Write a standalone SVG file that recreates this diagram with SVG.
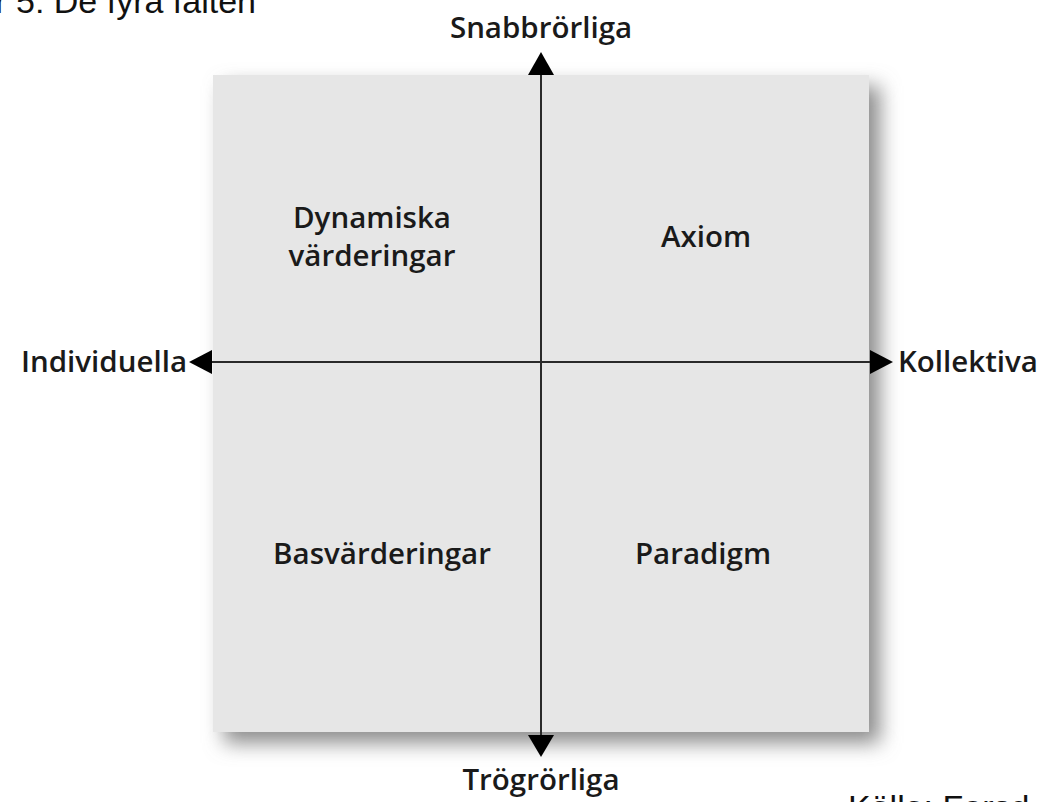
<svg xmlns="http://www.w3.org/2000/svg" width="1047" height="802" viewBox="0 0 1047 802">
<style>
.lbl{font-family:"Open Sans","Noto Sans",sans-serif;font-weight:600;font-size:29.5px;fill:#1a1a1a}
.cap{font-family:"Liberation Sans",Arial,sans-serif;font-size:34px;fill:#111}
.axis{stroke:#2a2a2a;stroke-width:2;fill:none}
.head{fill:#000}
</style>
<defs>
<filter id="sh" x="-15%" y="-15%" width="140%" height="140%">
<feGaussianBlur stdDeviation="10"/>
</filter>
</defs>
<rect width="1047" height="802" fill="#fff"/>
<text class="cap" x="256" y="13" text-anchor="end">Figur 5: De fyra fälten</text>
<g id="panel">
<rect x="224" y="86" width="656" height="657" fill="#8c8c8c" filter="url(#sh)"/>
<rect x="213" y="75" width="656" height="657" fill="#e6e6e6"/>
</g>
<g id="connectors">
<line class="axis" x1="541" y1="72" x2="541" y2="738"/>
<line class="axis" x1="208" y1="362" x2="874" y2="362"/>
<polygon class="head" points="541,52 528,75 554,75"/>
<polygon class="head" points="541,757 528,735 554,735"/>
<polygon class="head" points="189,362 212,350 212,374"/>
<polygon class="head" points="893,362 870,350 870,374"/>
</g>
<g id="top"><text class="lbl" x="541" y="38" text-anchor="middle">Snabbrörliga</text></g>
<g id="bottom"><text class="lbl" x="541" y="790" text-anchor="middle">Trögrörliga</text></g>
<g id="left"><text class="lbl" x="187" y="372" text-anchor="end">Individuella</text></g>
<g id="right"><text class="lbl" x="898" y="372">Kollektiva</text></g>
<g id="q1"><text class="lbl" x="372" y="228" text-anchor="middle">Dynamiska</text><text class="lbl" x="372" y="266" text-anchor="middle">värderingar</text></g>
<g id="q2"><text class="lbl" x="706" y="247" text-anchor="middle">Axiom</text></g>
<g id="q3"><text class="lbl" x="382" y="564" text-anchor="middle">Basvärderingar</text></g>
<g id="q4"><text class="lbl" x="703" y="564" text-anchor="middle">Paradigm</text></g>
<text class="cap" x="848" y="819">Källa: Forsd</text>
</svg>
